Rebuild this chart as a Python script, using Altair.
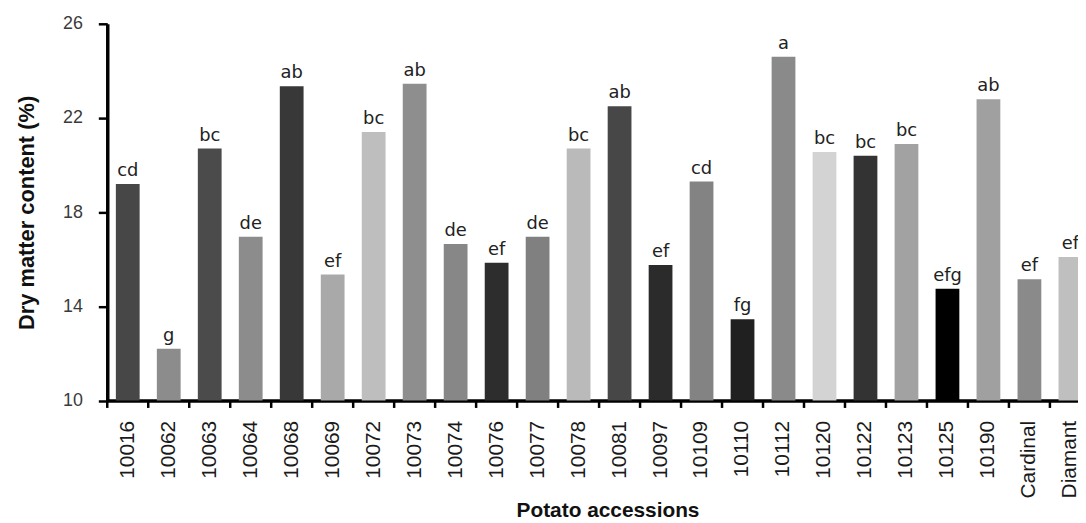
import altair as alt
import pandas as pd

accessions = ["10016", "10062", "10063", "10064", "10068", "10069", "10072", "10073",
              "10074", "10076", "10077", "10078", "10081", "10097", "10109", "10110",
              "10112", "10120", "10122", "10123", "10125", "10190", "Cardinal", "Diamant"]
dry_matter = [19.2, 12.2, 20.7, 16.95, 23.35, 15.35, 21.4, 23.45,
              16.65, 15.85, 16.95, 20.7, 22.5, 15.75, 19.3, 13.45,
              24.6, 20.55, 20.4, 20.9, 14.75, 22.8, 15.15, 16.1]
letters = ["cd", "g", "bc", "de", "ab", "ef", "bc", "ab",
           "de", "ef", "de", "bc", "ab", "ef", "cd", "fg",
           "a", "bc", "bc", "bc", "efg", "ab", "ef", "ef"]
y_ticks = [10, 14, 18, 22, 26]
y_base = 10

bar_colors = ["#474747", "#8c8c8c", "#4b4b4b", "#8c8c8c", "#383838", "#a9a9a9", "#bebebe", "#8e8e8e",
              "#878787", "#2d2d2d", "#808080", "#bababa", "#474747", "#2b2b2b", "#838383", "#202020",
              "#8a8a8a", "#d3d3d3", "#333333", "#a2a2a2", "#000000", "#a0a0a0", "#8a8a8a", "#bfbfbf"]

df = pd.DataFrame({"acc": accessions, "dm": dry_matter, "lab": letters})

x_scale = alt.Scale(domain=accessions, range=[0, 991], paddingInner=0, paddingOuter=0)
y_scale = alt.Scale(domain=[10, 26], nice=False, zero=False)

x_enc = alt.X("acc:N", scale=x_scale, sort=accessions,
              axis=alt.Axis(title="Potato accessions", labelAngle=-90, labelFont="Liberation Sans",
                            labelFontSize=21, labelColor="#1a1a1a", labelPadding=20, ticks=False,
                            labelOverlap=False, labelBound=False,
                            domainColor="#000000", domainWidth=3.5, titleFont="Liberation Sans",
                            titleFontSize=21, titleFontWeight="bold", titleColor="#111111",
                            titleY=116.5, titleX=504, titleBaseline="alphabetic", titleAlign="center"))
y_enc = alt.Y("dm:Q", scale=y_scale,
              axis=alt.Axis(title="Dry matter content (%)", values=y_ticks, labelFont="Liberation Sans",
                            labelFontSize=18, labelColor="#3a3a3a", labelPadding=16, tickSize=9,
                            tickWidth=2.5, tickColor="#000000", domainColor="#000000", domainWidth=3.5,
                            grid=False, titleFont="Liberation Sans", titleFontSize=22,
                            titleFontWeight="bold", titleColor="#111111", titleX=-74, titleY=190,
                            titleBaseline="alphabetic", titleAlign="center"))

bars = alt.Chart(df).mark_bar(width=alt.RelativeBandSize(0.58)).encode(
    x=x_enc,
    y=y_enc,
    y2=alt.datum(y_base),
    color=alt.Color("acc:N", scale=alt.Scale(domain=accessions, range=bar_colors), legend=None),
)

texts = alt.Chart(df).mark_text(baseline="bottom", dy=-4, font="DejaVu Sans", fontSize=18,
                                color="#222222").encode(
    x=alt.X("acc:N", scale=x_scale, sort=accessions),
    y=alt.Y("dm:Q", scale=y_scale),
    text="lab:N",
)

ticks = alt.Chart(df).mark_rule(color="#000000", strokeWidth=2.5).encode(
    x=alt.X("acc:N", scale=x_scale, sort=accessions, bandPosition=0),
    y=alt.value(379.5),
    y2=alt.value(387),
)

chart = alt.layer(bars, texts, ticks).properties(
    width=978,
    height=379.5,
    padding={"left": 100, "top": 14, "right": 0, "bottom": 122},
    autosize=alt.AutoSizeParams(type="none"),
).configure_view(stroke=None)

chart.save("out.html", embed_options={"renderer": "svg", "actions": False})
